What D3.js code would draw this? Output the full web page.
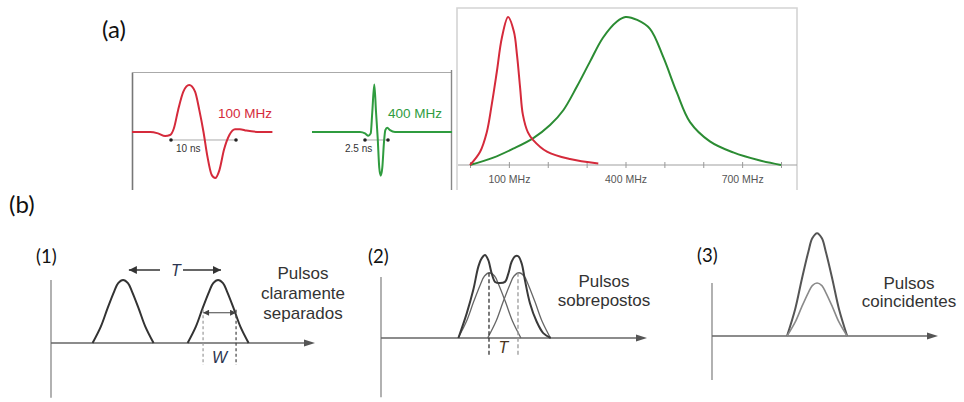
<!DOCTYPE html>
<html>
<head>
<meta charset="utf-8">
<script src="https://cdn.jsdelivr.net/npm/d3@7"></script>
<style>
  html, body { margin: 0; padding: 0; background: #fff; }
  svg { display: block; }
</style>
</head>
<body>
<svg id="chart" width="964" height="402"></svg>
<script>
// ---------- DATA ----------
// (a) time-domain wavelets (time in ns, normalized amplitude)
const redTime  = [-6, -3.2, -2, -0.9, -0.15, 0.45, 1.1, 1.9, 2.8, 3.7, 4.35, 5, 5.6, 6.25, 6.8, 7.45, 8.15, 9, 9.85, 10.6, 11.6, 13.7, 15.6];
const redAmp   = [0, 0, -0.03, -0.085, -0.065, 0.08, 0.47, 0.86, 1.0, 0.86, 0.47, 0, -0.52, -0.91, -0.98, -0.81, -0.38, -0.06, 0.06, 0.06, 0.03, 0, 0];
const greenTime = [-5.76, -3.8, -0.54, 0, 0.36, 0.62, 0.79, 1.01, 1.2, 1.38, 1.55, 1.71, 1.88, 2.07, 2.21, 2.42, 2.72, 3.26, 4.9, 9.46];
const greenAmp  = [0, 0, 0, -0.03, -0.08, -0.03, 0.42, 1.01, 0.42, -0.13, -0.76, -0.93, -0.76, -0.2, 0.04, 0.09, 0.04, 0, 0, 0];
const redLabel = "100 MHz", greenLabel = "400 MHz";
const redSpan = [0, 10], greenSpan = [0, 2.5];
const redSpanLabel = "10 ns", greenSpanLabel = "2.5 ns";

// (a) spectra (frequency in MHz, normalized amplitude)
const redFreq   = [0, 26, 43, 56, 69, 82, 98, 113, 121, 129, 136, 149, 162, 198, 257, 330];
const redSpec   = [0, 0.09, 0.22, 0.41, 0.63, 0.86, 1.0, 0.90, 0.74, 0.52, 0.34, 0.22, 0.17, 0.09, 0.04, 0.01];
const greenFreq = [0, 60, 111, 162, 206, 240, 275, 309, 342, 378, 400, 430, 463, 497, 532, 566, 617, 677, 746, 800];
const greenSpec = [0, 0.05, 0.11, 0.18, 0.27, 0.37, 0.53, 0.70, 0.86, 0.97, 1.0, 0.98, 0.92, 0.73, 0.49, 0.29, 0.16, 0.085, 0.03, 0];
const freqTicks  = [0, 100, 200, 300, 400, 500, 600, 700, 800];
const freqLabels = [100, 400, 700];

// (b) pulse shape (u: -1..1 across pulse base, h: normalized height)
const pulseU = [-1, -0.73, -0.51, -0.29, -0.16, 0, 0.16, 0.29, 0.51, 0.73, 1];
const pulseH = [0, 0.26, 0.55, 0.82, 0.95, 1, 0.95, 0.82, 0.55, 0.26, 0];

// (1) clearly separated pulses
const p1Centers = [27.3, 63.3], p1Half = 11.55, p1Amp = 1.0;
const p1T = [29.5, 64.4], p1W = [57.6, 70.1], p1WLevel = 0.48;
// (2) overlapping pulses
const p2Centers = [40.8, 51.9], p2Half = 11.8, p2Amp = 1.07;
const p2SumX = [29.1, 32.2, 34.7, 36.6, 37.9, 39.1, 40.3, 41.6, 42.9, 44.7, 46.6, 47.9, 49.1, 50.4, 51.6, 52.9, 54.1, 56.0, 58.5, 61.0, 63.8];
const p2SumY = [0, 0.40, 0.79, 1.17, 1.31, 1.36, 1.28, 1.06, 0.92, 0.90, 0.92, 1.06, 1.25, 1.34, 1.34, 1.22, 0.95, 0.57, 0.27, 0.08, 0];
const p2T = [40.6, 51.5];
// (3) coincident pulses
const p3Center = 46.5, p3Half = 13.3, p3Amps = [1.94, 1.0];

const panelLabels = ["(1)", "(2)", "(3)"];
const panelTexts = [["Pulsos", "claramente", "separados"], ["Pulsos", "sobrepostos"], ["Pulsos", "coincidentes"]];

// ---------- DRAW ----------
const svg = d3.select("#chart");
const SANS = "'Liberation Sans', Arial, sans-serif";
const CAL = "Lato, 'Open Sans', sans-serif";
const RED = "#d52a3b", GREEN = "#2f9c3f", GREEN2 = "#2b8c33";

svg.append("rect").attr("width", 964).attr("height", 402).attr("fill", "#fff");

// markers
const defs = svg.append("defs");
defs.append("marker").attr("id", "ah").attr("viewBox", "0 0 10 10")
  .attr("refX", 10).attr("refY", 5).attr("markerWidth", 10).attr("markerHeight", 8)
  .attr("markerUnits", "userSpaceOnUse").attr("orient", "auto")
  .append("path").attr("d", "M0,0 L10,5 L0,10 Z").attr("fill", "#333");
defs.append("marker").attr("id", "ahs").attr("viewBox", "0 0 10 10")
  .attr("refX", 10).attr("refY", 5).attr("markerWidth", 7).attr("markerHeight", 6)
  .attr("markerUnits", "userSpaceOnUse").attr("orient", "auto-start-reverse")
  .append("path").attr("d", "M0,0 L10,5 L0,10 Z").attr("fill", "#444");

// labels (a) (b)
svg.append("text").attr("x", 102).attr("y", 38).attr("font-family", CAL).attr("font-size", 24).attr("fill", "#111").text("(a)");
svg.append("text").attr("x", 9).attr("y", 213).attr("font-family", CAL).attr("font-size", 24).attr("fill", "#111").text("(b)");

// ----- (a) left box: wavelets -----
svg.append("line").attr("x1", 132.5).attr("x2", 132.5).attr("y1", 72.5).attr("y2", 190).attr("stroke", "#777").attr("stroke-width", 1.6);
svg.append("line").attr("x1", 132).attr("x2", 452).attr("y1", 72.5).attr("y2", 72.5).attr("stroke", "#aaa").attr("stroke-width", 1.2);
svg.append("line").attr("x1", 451.5).attr("x2", 451.5).attr("y1", 70).attr("y2", 190).attr("stroke", "#888").attr("stroke-width", 1.4);

const yWave = d3.scaleLinear().domain([-1, 1]).range([179, 85]);
const xRed = d3.scaleLinear().domain(redSpan).range([171, 236]);
const xGreen = d3.scaleLinear().domain(greenSpan).range([365, 388]);
const waveLine = (xs) => d3.line().x(d => xs(d[0])).y(d => yWave(d[1])).curve(d3.curveMonotoneX);

function drawWave(times, amps, xs, color, span, spanLabel, label, labelX, spanLabelX) {
  const pts = times.map((t, i) => [t, amps[i]]);
  const dotY = yWave(-0.17);
  svg.append("line").attr("x1", xs(span[0])).attr("x2", xs(span[1])).attr("y1", dotY).attr("y2", dotY)
    .attr("stroke", "#aaa").attr("stroke-width", 1);
  svg.append("path").datum(pts).attr("d", waveLine(xs)).attr("fill", "none").attr("stroke", color).attr("stroke-width", 2);
  span.forEach(s => svg.append("circle").attr("cx", xs(s)).attr("cy", dotY).attr("r", 1.8).attr("fill", "#222"));
  svg.append("text").attr("x", spanLabelX).attr("y", 152).attr("font-family", SANS).attr("font-size", 10).attr("fill", "#333").text(spanLabel);
  svg.append("text").attr("x", labelX).attr("y", 118).attr("font-family", SANS).attr("font-size", 13.5).attr("fill", color).text(label);
}
drawWave(redTime, redAmp, xRed, RED, redSpan, redSpanLabel, redLabel, 218, 176);
drawWave(greenTime, greenAmp, xGreen, GREEN, greenSpan, greenSpanLabel, greenLabel, 388, 345);

// ----- (a) right box: spectra -----
svg.append("path").attr("d", "M457,190 V8 H797 V190").attr("fill", "none").attr("stroke", "#d4d4d4").attr("stroke-width", 1.6);
const xF = d3.scaleLinear().domain([0, 800]).range([470, 781]);
const yS = d3.scaleLinear().domain([0, 1]).range([165, 17]);
svg.append("line").attr("x1", 458).attr("x2", 797).attr("y1", 165).attr("y2", 165).attr("stroke", "#a0a0a0").attr("stroke-width", 1.2);
const axisG = svg.append("g").attr("transform", "translate(0,164)")
  .call(d3.axisBottom(xF).tickValues(freqTicks).tickSize(4).tickSizeOuter(0)
    .tickFormat(d => freqLabels.includes(d) ? d + " MHz" : ""));
axisG.select(".domain").remove();
axisG.selectAll(".tick line").attr("stroke", "#999").attr("y1", -2);
axisG.selectAll(".tick text").attr("font-family", SANS).attr("font-size", 10.5).attr("fill", "#555").attr("y", 12).attr("dy", "0.71em");

const specLine = d3.line().x(d => xF(d[0])).y(d => yS(d[1])).curve(d3.curveCatmullRom.alpha(0.5));
svg.append("path").datum(greenFreq.map((f, i) => [f, greenSpec[i]])).attr("d", specLine)
  .attr("fill", "none").attr("stroke", GREEN2).attr("stroke-width", 2);
svg.append("path").datum(redFreq.map((f, i) => [f, redSpec[i]])).attr("d", specLine)
  .attr("fill", "none").attr("stroke", RED).attr("stroke-width", 2);

// ----- (b) pulse panels -----
const panels = [
  { x0: 51, x1: 315, base: 343, unit: 63, bottom: -0.87, labelX: 36, labelY: 263, textX: 303, textY: [279, 299, 319] },
  { x0: 381, x1: 647, base: 338, unit: 61, bottom: -0.97, labelX: 368, labelY: 263, textX: 604, textY: [287, 306] },
  { x0: 712, x1: 938, base: 336, unit: 53, bottom: -0.83, labelX: 697, labelY: 262, textX: 909, textY: [289, 307] }
];
panels.forEach((p, i) => {
  p.x = d3.scaleLinear().domain([0, 100]).range([p.x0, p.x1]);
  p.y = d3.scaleLinear().domain([0, 1]).range([p.base, p.base - p.unit]);
  const g = svg.append("g");
  p.g = g;
  g.append("line").attr("x1", p.x(0)).attr("x2", p.x(0)).attr("y1", p.y(1)).attr("y2", p.y(p.bottom))
    .attr("stroke", "#888").attr("stroke-width", 1.3);
  g.append("line").attr("x1", p.x(0)).attr("x2", p.x(100) - 9).attr("y1", p.y(0)).attr("y2", p.y(0))
    .attr("stroke", "#666").attr("stroke-width", 1.4);
  g.append("path").attr("d", `M${p.x(100)},${p.y(0)} l-11,-3.5 l0,7 z`).attr("fill", "#555");
  g.append("text").attr("x", p.labelX).attr("y", p.labelY).attr("font-family", CAL).attr("font-size", 18.5).attr("fill", "#111").text(panelLabels[i]);
  panelTexts[i].forEach((t, k) => g.append("text").attr("x", p.textX).attr("y", p.textY[k])
    .attr("text-anchor", "middle").attr("font-family", SANS).attr("font-size", 17).attr("fill", "#333").text(t));
});

const pulseCurve = d3.curveCatmullRom.alpha(0.5);
const pulsePath = (p, c, half, amp) => d3.line().x(d => p.x(d[0])).y(d => p.y(d[1])).curve(pulseCurve)(
  pulseU.map((u, i) => [c + u * half, pulseH[i] * amp]));

// panel 1
{
  const p = panels[0];
  p1Centers.forEach(c => p.g.append("path").attr("d", pulsePath(p, c, p1Half, p1Amp))
    .attr("fill", "none").attr("stroke", "#333").attr("stroke-width", 2));
  const ty = 270;
  p.g.append("line").attr("x1", p.x(41.3)).attr("x2", p.x(p1T[0])).attr("y1", ty).attr("y2", ty)
    .attr("stroke", "#333").attr("stroke-width", 1.3).attr("marker-end", "url(#ah)");
  p.g.append("line").attr("x1", p.x(50)).attr("x2", p.x(p1T[1])).attr("y1", ty).attr("y2", ty)
    .attr("stroke", "#333").attr("stroke-width", 1.3).attr("marker-end", "url(#ah)");
  p.g.append("text").attr("x", p.x((p1T[0] + p1T[1]) / 2) + 1).attr("y", ty + 6).attr("text-anchor", "middle")
    .attr("font-family", SANS).attr("font-size", 16).attr("font-style", "italic").attr("fill", "#2c3550").text("T");
  const wy = p.y(p1WLevel);
  p.g.append("line").attr("x1", p.x(p1W[0])).attr("x2", p.x(p1W[1])).attr("y1", wy).attr("y2", wy)
    .attr("stroke", "#444").attr("stroke-width", 1.2).attr("marker-start", "url(#ahs)").attr("marker-end", "url(#ahs)");
  p1W.forEach((w, k) => p.g.append("line").attr("x1", p.x(w)).attr("x2", p.x(w)).attr("y1", wy - 3).attr("y2", p.y(-0.35))
    .attr("stroke", k === 0 ? "#999" : "#444").attr("stroke-width", 1.2).attr("stroke-dasharray", "3,2.5"));
  p.g.append("text").attr("x", p.x((p1W[0] + p1W[1]) / 2)).attr("y", p.y(-0.31)).attr("text-anchor", "middle")
    .attr("font-family", SANS).attr("font-size", 16).attr("font-style", "italic").attr("fill", "#2c3550").text("W");
}
// panel 2
{
  const p = panels[1];
  p2Centers.forEach(c => p.g.append("path").attr("d", pulsePath(p, c, p2Half, p2Amp))
    .attr("fill", "none").attr("stroke", "#666").attr("stroke-width", 1.3));
  const sum = p2SumX.map((x, i) => [x, p2SumY[i]]);
  p.g.append("path").datum(sum).attr("d", d3.line().x(d => p.x(d[0])).y(d => p.y(d[1])).curve(pulseCurve))
    .attr("fill", "none").attr("stroke", "#3a3a3a").attr("stroke-width", 2);
  p2T.forEach((t, k) => p.g.append("line").attr("x1", p.x(t)).attr("x2", p.x(t)).attr("y1", p.y(p2Amp)).attr("y2", p.y(-0.28))
    .attr("stroke", k === 0 ? "#333" : "#999").attr("stroke-width", 1.3).attr("stroke-dasharray", "4,2.5"));
  p.g.append("text").attr("x", p.x((p2T[0] + p2T[1]) / 2)).attr("y", p.y(-0.25)).attr("text-anchor", "middle")
    .attr("font-family", SANS).attr("font-size", 16).attr("font-style", "italic").attr("fill", "#4a3520").text("T");
}
// panel 3
{
  const p = panels[2];
  p3Amps.forEach((a, k) => p.g.append("path").attr("d", pulsePath(p, p3Center, p3Half, a))
    .attr("fill", "none").attr("stroke", k === 0 ? "#555" : "#8a8a8a").attr("stroke-width", k === 0 ? 2 : 1.6));
}
</script>
</body>
</html>
